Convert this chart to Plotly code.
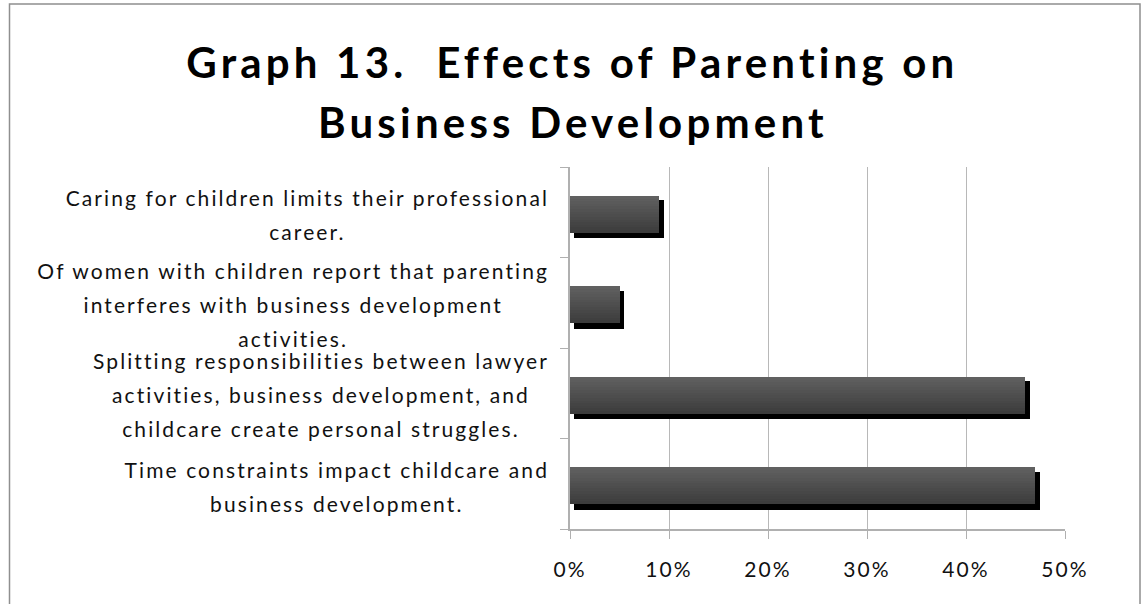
import plotly.graph_objects as go

# Survey answers, listed top to bottom as they appear on the chart
categories = [
    "Caring for children limits their professional<br>career.",
    "Of women with children report that parenting<br>interferes with business development<br>activities.",
    "Splitting responsibilities between lawyer<br>activities, business development, and<br>childcare create personal struggles.",
    "Time constraints impact childcare and<br>business development.",
]
percent = [9, 5, 46, 47]

x_ticks = [0, 10, 20, 30, 40, 50]
x_tick_labels = ["0%", "10%", "20%", "30%", "40%", "50%"]

title_lines = ["Graph 13.  Effects of Parenting on", "Business Development"]

W, H = 1145, 604
L, R, T, B = 570, 80, 167, 75
plot_w = W - L - R
plot_h = H - T - B

FONT = "Lato"
LABEL_RIGHT = L - 21          # right edge of the category label blocks, px
pos = list(range(len(categories)))

fig = go.Figure()

# bar geometry in category units
bar_top = -0.18
bar_w = 0.405
shadow_top = -0.135
shadow_w = 0.42
shadow_dx = 0.45

# drop shadow behind each bar
fig.add_trace(go.Bar(
    y=pos, x=[v + shadow_dx - 0.4 for v in percent], base=0.4,
    orientation="h", width=shadow_w, offset=shadow_top,
    marker=dict(color="#000000", line=dict(width=0)),
    hoverinfo="skip", showlegend=False,
))

# bar body drawn as thin horizontal slices for a vertical gradient
n_slices = 14
c_top, c_bot = (0x60, 0x60, 0x60), (0x3c, 0x3c, 0x3c)
for k in range(n_slices):
    t = k / (n_slices - 1)
    rgb = tuple(round(a + (b - a) * t) for a, b in zip(c_top, c_bot))
    fig.add_trace(go.Bar(
        y=pos, x=percent, orientation="h",
        width=bar_w / n_slices + 0.002, offset=bar_top + k * bar_w / n_slices,
        marker=dict(color="rgb(%d,%d,%d)" % rgb, line=dict(width=0)),
        hoverinfo="skip", showlegend=False,
    ))

# category labels, centred blocks ending just left of the axis
for i, label in enumerate(categories):
    fig.add_annotation(
        x=(LABEL_RIGHT - L) / plot_w, xref="paper", xanchor="right",
        y=i, yref="y", yanchor="middle", yshift=-2,
        text=label, align="center", showarrow=False,
        font=dict(family=FONT, size=21, color="#111111"),
    )

# two-line title
for j, line in enumerate(title_lines):
    fig.add_annotation(
        x=0.5 * W / plot_w - L / plot_w, xref="paper", xanchor="center",
        y=(H - B - (62 + 60 * j)) / plot_h, yref="paper", yanchor="middle",
        text="<b>%s</b>" % line, showarrow=False,
        font=dict(family=FONT, size=42, color="#000000"),
    )

# outer chart frame
fig.add_shape(
    type="rect", xref="paper", yref="paper",
    x0=(9.5 - L) / plot_w, x1=(1140 - L) / plot_w,
    y0=(H - B - 620) / plot_h, y1=(H - B - 4) / plot_h,
    line=dict(color="#8f8f8f", width=1.5), fillcolor="rgba(0,0,0,0)",
    layer="below",
)

fig.update_layout(
    width=W, height=H,
    margin=dict(l=L, r=R, t=T, b=B),
    paper_bgcolor="white", plot_bgcolor="white",
    barmode="overlay", bargap=0,
    showlegend=False,
    font=dict(family=FONT, color="#111111"),
    xaxis=dict(
        range=[0, 50], tickvals=x_ticks, ticktext=x_tick_labels,
        showgrid=True, gridcolor="#b8b8b8", gridwidth=1,
        zeroline=False, showline=True, linecolor="#b0b0b0", linewidth=1.5,
        ticks="outside", ticklen=8, tickcolor="#b0b0b0",
        ticklabelstandoff=13,
        tickfont=dict(family=FONT, size=21, color="#111111"),
        fixedrange=True,
    ),
    yaxis=dict(
        range=[3.5, -0.5], tickvals=[-0.5, 0.5, 1.5, 2.5, 3.5],
        showticklabels=False, showgrid=False, zeroline=False,
        showline=True, linecolor="#b0b0b0", linewidth=1.5,
        ticks="outside", ticklen=8, tickcolor="#b0b0b0",
        fixedrange=True,
    ),
)

# Loose letter spacing on all chart text, taller line spacing inside the
# multi-line category labels, and those labels re-aligned on their right edge.
spacing_js = """
var gd = document.getElementById('{plot_id}');
var st = document.createElement('style');
st.textContent = 'text.annotation-text, .xtick text { letter-spacing: 0.1em; }';
document.head.appendChild(st);
var right = %d;
var box = gd.getBoundingClientRect();
gd.querySelectorAll('text.annotation-text').forEach(function (t) {
  var lines = t.querySelectorAll('tspan.line');
  var n = lines.length;
  if (n < 2) return;
  var k = 1.62, shift = (n - 1) * (k - 1.3) / 2;
  lines.forEach(function (sp, i) { sp.setAttribute('dy', (i * k - shift) + 'em'); });
  var r = t.getBoundingClientRect();
  var dx = right - (r.right - box.left);
  var prev = t.getAttribute('transform') || '';
  t.setAttribute('transform', 'translate(' + dx + ',0) ' + prev);
});
""" % LABEL_RIGHT

fig.write_html("out.html", include_plotlyjs=True,
               config={"displayModeBar": False}, post_script=spacing_js)
